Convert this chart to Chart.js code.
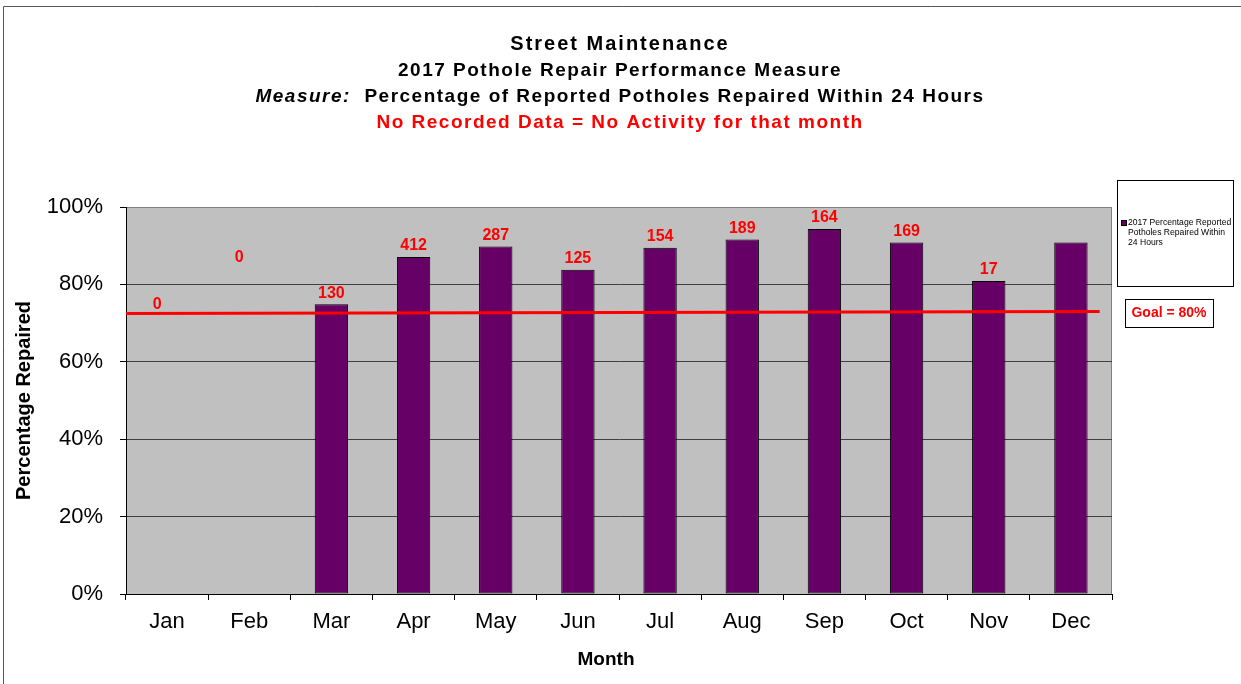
<!DOCTYPE html>
<html>
<head>
<meta charset="utf-8">
<script src="https://cdn.jsdelivr.net/npm/chart.js@4"></script>
<style>
  body { margin: 0; background: #fff; }
  canvas { display: block; }
</style>
</head>
<body>
<canvas id="potholeChart" width="1241" height="684"></canvas>
<script>
const months = ["Jan", "Feb", "Mar", "Apr", "May", "Jun", "Jul", "Aug", "Sep", "Oct", "Nov", "Dec"];
const pctRepaired = [null, null, 74.9, 87.1, 89.8, 83.8, 89.5, 91.6, 94.3, 90.8, 80.9, 90.8];
const potholeCounts = [0, 0, 130, 412, 287, 125, 154, 189, 164, 169, 17, null];
// months without a bar still carry a count label, anchored at these values
const emptyLabelAnchor = [72.0, 84.0];
const goalLineX = [-0.5, 11.35];
const goalLineY = [72.5, 73.0];
const yTicks = [0, 20, 40, 60, 80, 100];

const titleLines = [
  [{ text: "Street Maintenance", color: "#000", size: 20 }],
  [{ text: "2017 Pothole Repair Performance Measure", color: "#000" }],
  [{ text: "Measure:", color: "#000", italic: true }, { text: "  Percentage of Reported Potholes Repaired Within 24 Hours", color: "#000" }],
  [{ text: "No Recorded Data = No Activity for that month", color: "#ff0000" }],
];
const legendLines = ["2017 Percentage Reported", "Potholes Repaired Within", "24 Hours"];
const goalText = "Goal = 80%";

const FONT = "'Liberation Sans', Arial, sans-serif";

const decorPlugin = {
  id: "decor",
  beforeDraw(chart) {
    const { ctx, chartArea: a } = chart;
    ctx.save();
    ctx.fillStyle = "#fff";
    ctx.fillRect(0, 0, chart.width, chart.height);
    // outer frame
    ctx.strokeStyle = "#555";
    ctx.lineWidth = 1;
    ctx.beginPath();
    ctx.moveTo(3.5, chart.height);
    ctx.lineTo(3.5, 6.5);
    ctx.lineTo(chart.width, 6.5);
    ctx.stroke();
    // plot area
    ctx.fillStyle = "#c0c0c0";
    ctx.fillRect(a.left, a.top, a.right - a.left, a.bottom - a.top);
    ctx.strokeStyle = "#808080";
    ctx.strokeRect(a.left + 0.5, a.top + 0.5, a.right - a.left - 1, a.bottom - a.top);
    ctx.restore();
  },
  afterDraw(chart) {
    const { ctx } = chart;
    ctx.save();
    // title lines
    const ys = [44, 71, 97, 123];
    ctx.textBaseline = "middle";
    titleLines.forEach((parts, i) => {
      ctx.letterSpacing = i === 0 ? "2px" : "1.5px";
      const fonts = parts.map(p => (p.italic ? "italic " : "") + "bold " + (p.size || 19) + "px " + FONT);
      let total = 0;
      const widths = parts.map((p, j) => { ctx.font = fonts[j]; const w = ctx.measureText(p.text).width; total += w; return w; });
      let x = 620 - total / 2;
      ctx.textAlign = "left";
      parts.forEach((p, j) => {
        ctx.font = fonts[j];
        ctx.fillStyle = p.color;
        ctx.fillText(p.text, x, ys[i]);
        x += widths[j];
      });
    });
    ctx.letterSpacing = "0px";

    // x axis title
    ctx.font = "bold 19px " + FONT;
    ctx.fillStyle = "#000";
    ctx.textAlign = "center";
    ctx.fillText("Month", 606, 660);

    // legend box
    ctx.strokeStyle = "#000";
    ctx.lineWidth = 1;
    ctx.strokeRect(1117.5, 180.5, 116, 106);
    ctx.fillStyle = "#660066";
    ctx.fillRect(1122, 221, 5, 5);
    ctx.strokeRect(1121.5, 220.5, 5, 5);
    ctx.font = "8.6px " + FONT;
    ctx.fillStyle = "#000";
    ctx.textAlign = "left";
    legendLines.forEach((t, i) => ctx.fillText(t, 1128, 223 + i * 10));

    // goal box
    ctx.strokeRect(1125.5, 299.5, 88, 28);
    ctx.font = "bold 14px " + FONT;
    ctx.fillStyle = "#ff0000";
    ctx.textAlign = "center";
    ctx.fillText(goalText, 1169, 313);
    ctx.restore();
  },
  afterDatasetsDraw(chart) {
    const { ctx } = chart;
    const xScale = chart.scales.x;
    const yScale = chart.scales.y;
    ctx.save();
    ctx.font = "bold 16px " + FONT;
    ctx.fillStyle = "#ff0000";
    ctx.textAlign = "center";
    ctx.textBaseline = "middle";
    potholeCounts.forEach((c, i) => {
      if (c === null) return;
      const hasBar = pctRepaired[i] !== null;
      const v = hasBar ? pctRepaired[i] : emptyLabelAnchor[i];
      const x = xScale.getPixelForValue(i) - (hasBar ? 0 : 10);
      const y = yScale.getPixelForValue(v) - 11;
      ctx.fillText(String(c), x, y);
    });
    ctx.restore();
  },
};

const ctx = document.getElementById("potholeChart").getContext("2d");

new Chart(ctx, {
  data: {
    labels: months,
    datasets: [
      {
        type: "line",
        label: "Goal",
        data: goalLineX.map((x, i) => ({ x, y: goalLineY[i] })),
        xAxisID: "xg",
        borderColor: "#ff0000",
        borderWidth: 3,
        pointRadius: 0,
        fill: false,
        order: 0,
      },
      {
        type: "bar",
        label: "2017 Percentage Reported Potholes Repaired Within 24 Hours",
        data: pctRepaired,
        xAxisID: "x",
        backgroundColor: "#660066",
        borderColor: "#000",
        borderWidth: 1,
        borderSkipped: false,
        grouped: false,
        categoryPercentage: 1,
        barPercentage: 0.406,
        order: 1,
      },
    ],
  },
  options: {
    responsive: false,
    devicePixelRatio: 1,
    animation: false,
    layout: { padding: { top: 207, right: 129, left: 0, bottom: 0 } },
    plugins: {
      legend: { display: false },
      tooltip: { enabled: false },
    },
    scales: {
      x: {
        type: "category",
        offset: true,
        afterFit: (s) => { s.height = 90; },
        grid: { offset: true, drawOnChartArea: false, drawTicks: true, tickLength: 6, tickColor: "#000" },
        border: { display: true, color: "#000", width: 1 },
        ticks: { color: "#000", font: { family: FONT, size: 22 }, padding: 9, maxRotation: 0 },
      },
      xg: {
        type: "linear",
        display: false,
        min: -0.5,
        max: 11.5,
      },
      y: {
        min: 0,
        max: 100,
        afterFit: (s) => { s.width = 126; },
        afterBuildTicks: (s) => { s.ticks = yTicks.map(v => ({ value: v })); },
        grid: {
          color: (c) => (c.tick && c.tick.value === 100 ? "rgba(0,0,0,0)" : "#404040"),
          tickColor: "#000",
          tickLength: 6,
        },
        border: { display: true, color: "#000", width: 1 },
        ticks: { color: "#000", font: { family: FONT, size: 22 }, padding: 17, callback: (v) => v + "%" },
        title: {
          display: true,
          text: "Percentage Repaired",
          color: "#000",
          font: { family: FONT, size: 20, weight: "bold" },
          padding: { top: 12, bottom: 0 },
        },
      },
    },
  },
  plugins: [decorPlugin],
});
</script>
</body>
</html>
